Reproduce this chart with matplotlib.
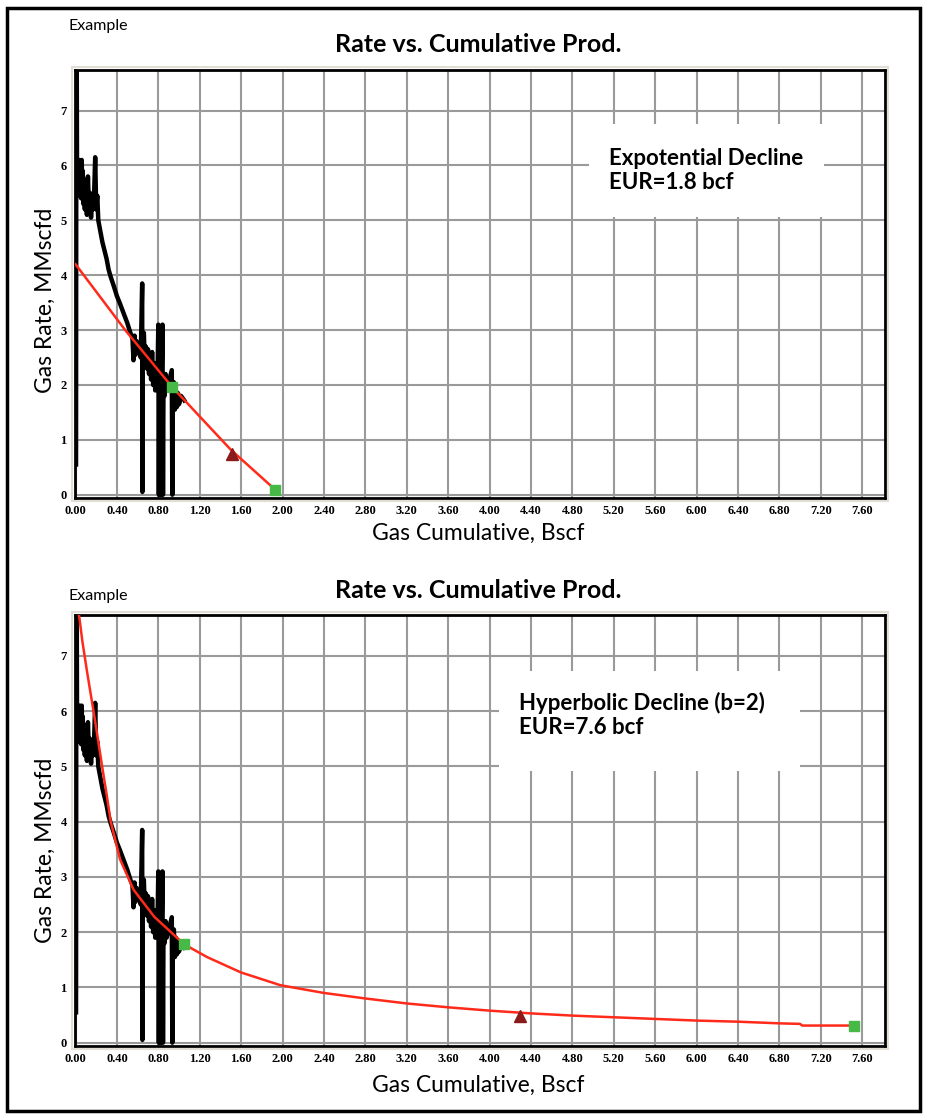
import matplotlib
matplotlib.use("Agg")
from matplotlib import pyplot as plt
from matplotlib.patches import Rectangle
from matplotlib.ticker import MultipleLocator, FormatStrFormatter

W, H = 926, 1119

# production history (same well on both panels)
cum_data = [0.005, 0.008, 0.012, 0.015, 0.02, 0.025, 0.03, 0.035, 0.04, 0.045, 0.05, 0.055,
            0.06, 0.065, 0.07, 0.075, 0.08, 0.09, 0.10, 0.11, 0.12, 0.13, 0.14, 0.15, 0.16,
            0.17, 0.18, 0.19, 0.20, 0.21, 0.22, 0.24, 0.26, 0.28, 0.30, 0.32, 0.34, 0.37,
            0.40, 0.43, 0.46, 0.50, 0.53, 0.55, 0.56, 0.57, 0.58, 0.59, 0.60, 0.62, 0.63,
            0.644, 0.646, 0.65, 0.66, 0.67, 0.68, 0.69, 0.70, 0.71, 0.72, 0.73, 0.74, 0.75,
            0.76, 0.77, 0.78, 0.79, 0.80, 0.805, 0.81, 0.815, 0.82, 0.825, 0.83, 0.84, 0.845,
            0.85, 0.86, 0.87, 0.88, 0.93, 0.935, 0.94, 0.95, 0.96, 0.97, 0.98, 0.99, 1.00,
            1.02, 1.05]
rate_data = [0.55, 7.8, 7.8, 5.6, 6.1, 5.5, 6.05, 5.45, 6.1, 5.6, 6.0, 5.4,
             6.1, 5.5, 5.9, 5.3, 5.75, 5.2, 5.7, 5.1, 5.8, 5.2, 5.5, 5.05, 5.4,
             5.2, 5.5, 6.15, 5.2, 5.45, 5.0, 4.8, 4.6, 4.45, 4.3, 4.1, 3.97, 3.8,
             3.62, 3.48, 3.33, 3.13, 2.95, 2.85, 2.45, 2.9, 2.55, 2.8, 2.6, 2.75, 2.5,
             3.85, 0.05, 2.6, 2.95, 2.4, 2.7, 2.3, 2.65, 2.2, 2.55, 2.1, 2.6, 2.0,
             2.4, 1.9, 2.3, 1.95, 3.1, 0.0, 2.2, 0.0, 2.4, 0.0, 1.9, 3.1, 0.0,
             2.1, 1.8, 2.2, 1.9, 2.27, 0.0, 1.7, 2.05, 1.55, 1.9, 1.6, 1.85, 1.65,
             1.8, 1.72]

# exponential decline fit
exp_cum = [0.0, 0.48, 0.93, 1.5, 1.93]
exp_rate = [4.2, 3.0, 1.97, 0.82, 0.09]
exp_sq_cum = [0.934, 1.93]
exp_sq_rate = [1.97, 0.09]
exp_tri_cum = [1.51]
exp_tri_rate = [0.74]

# hyperbolic decline fit
hyp_cum = [0.03, 0.065, 0.11, 0.18, 0.22, 0.257, 0.30, 0.34, 0.43, 0.56, 0.76, 0.98, 1.05,
           1.27, 1.6, 1.98, 2.4, 2.8, 3.2, 3.6, 4.0, 4.4, 4.8, 5.2, 5.6, 6.0, 6.4, 6.8,
           7.0, 7.02, 7.52]
hyp_rate = [7.8, 7.28, 6.73, 5.93, 5.45, 5.0, 4.5, 4.0, 3.32, 2.77, 2.28, 1.9, 1.78,
            1.55, 1.27, 1.04, 0.9, 0.8, 0.71, 0.64, 0.58, 0.53, 0.49, 0.46, 0.43, 0.40,
            0.38, 0.35, 0.34, 0.31, 0.31]
hyp_sq_cum = [1.05, 7.52]
hyp_sq_rate = [1.78, 0.31]
hyp_tri_cum = [4.29]
hyp_tri_rate = [0.48]

label_font = "Lato"
tick_font = "Liberation Serif"


def fx(px):
    return px / W


def fy(py):
    return 1 - py / H


def draw_panel(ax, fit_cum, fit_rate, sq_cum, sq_rate, tri_cum, tri_rate, box, lines, text_pos):
    ax.set_xlim(-0.005, 7.82)
    ax.set_ylim(-0.06, 7.74)
    ax.xaxis.set_major_locator(MultipleLocator(0.4))
    ax.yaxis.set_major_locator(MultipleLocator(1))
    ax.xaxis.set_major_formatter(FormatStrFormatter("%.2f"))
    ax.yaxis.set_major_formatter(FormatStrFormatter("%d"))
    ax.set_axisbelow(True)
    ax.grid(True, color="#9a9a9a", linewidth=1.5)
    ax.tick_params(axis="x", length=0, pad=5)
    ax.tick_params(axis="y", length=0, pad=6)
    for lab in ax.get_xticklabels() + ax.get_yticklabels():
        lab.set_fontfamily(tick_font)
        lab.set_fontweight("bold")
        lab.set_fontsize(9)
    for sp in ax.spines.values():
        sp.set_color("black")
        sp.set_linewidth(2)

    # white box that hides the grid behind the annotation
    bx, by, bw, bh = box
    ax.add_patch(Rectangle((bx, by), bw, bh, facecolor="white", edgecolor="none", zorder=1))
    ax.text(bx + 0.19, by + bh * text_pos, lines, fontsize=16, fontweight="bold",
            family=label_font, va="center", ha="left", linespacing=1.15, zorder=2)

    ax.plot(cum_data, rate_data, color="black", linewidth=3.2, zorder=3)
    ax.plot(fit_cum, fit_rate, color="#ff2a1a", linewidth=1.8, zorder=4)
    ax.plot(sq_cum, sq_rate, linestyle="none", marker="s", markersize=7,
            color="#46b946", zorder=5)
    ax.plot(tri_cum, tri_rate, linestyle="none", marker="^", markersize=8,
            color="#8b1a1a", zorder=5)


fig = plt.figure(figsize=(W / 100, H / 100), dpi=100)

ax1 = fig.add_axes([fx(75), fy(498), fx(810), 428 / H])
ax2 = fig.add_axes([fx(75), fy(1046), fx(810), 431 / H])

draw_panel(ax1, exp_cum, exp_rate, exp_sq_cum, exp_sq_rate, exp_tri_cum, exp_tri_rate,
           (4.96, 5.07, 2.27, 1.68), "Expotential Decline\nEUR=1.8 bcf", 0.5)
draw_panel(ax2, hyp_cum, hyp_rate, hyp_sq_cum, hyp_sq_rate, hyp_tri_cum, hyp_tri_rate,
           (4.09, 4.91, 2.91, 1.82), "Hyperbolic Decline (b=2)\nEUR=7.6 bcf", 0.56)

# light bevel round each plot frame
for top, bot in [(70, 498), (615, 1046)]:
    fig.patches.append(Rectangle((fx(72), fy(bot + 3)), fx(816), (bot - top + 6) / H,
                                 transform=fig.transFigure, fill=False,
                                 edgecolor="#e2ded6", linewidth=1.5, zorder=0))

# texts around the panels
for title_y, ex_y, xl_y, yl_y in [(45, 26, 533, 300), (590, 596, 1085, 850)]:
    fig.text(fx(478), fy(title_y), "Rate vs. Cumulative Prod.", ha="center", va="center",
             fontsize=18, fontweight="bold", family=label_font)
    fig.text(fx(68), fy(ex_y), "Example", ha="left", va="center", fontsize=11.5,
             family=label_font)
    fig.text(fx(478), fy(xl_y), "Gas Cumulative, Bscf", ha="center", va="center",
             fontsize=16.5, family=label_font)
    fig.text(fx(45), fy(yl_y), "Gas Rate, MMscfd", ha="center", va="center",
             rotation=90, fontsize=16.5, family=label_font)

# outer black border
fig.patches.append(Rectangle((fx(7), fy(1111)), fx(913), 1103 / H, transform=fig.transFigure,
                             fill=False, edgecolor="black", linewidth=2.5))

fig.savefig("out.png", dpi=100)
